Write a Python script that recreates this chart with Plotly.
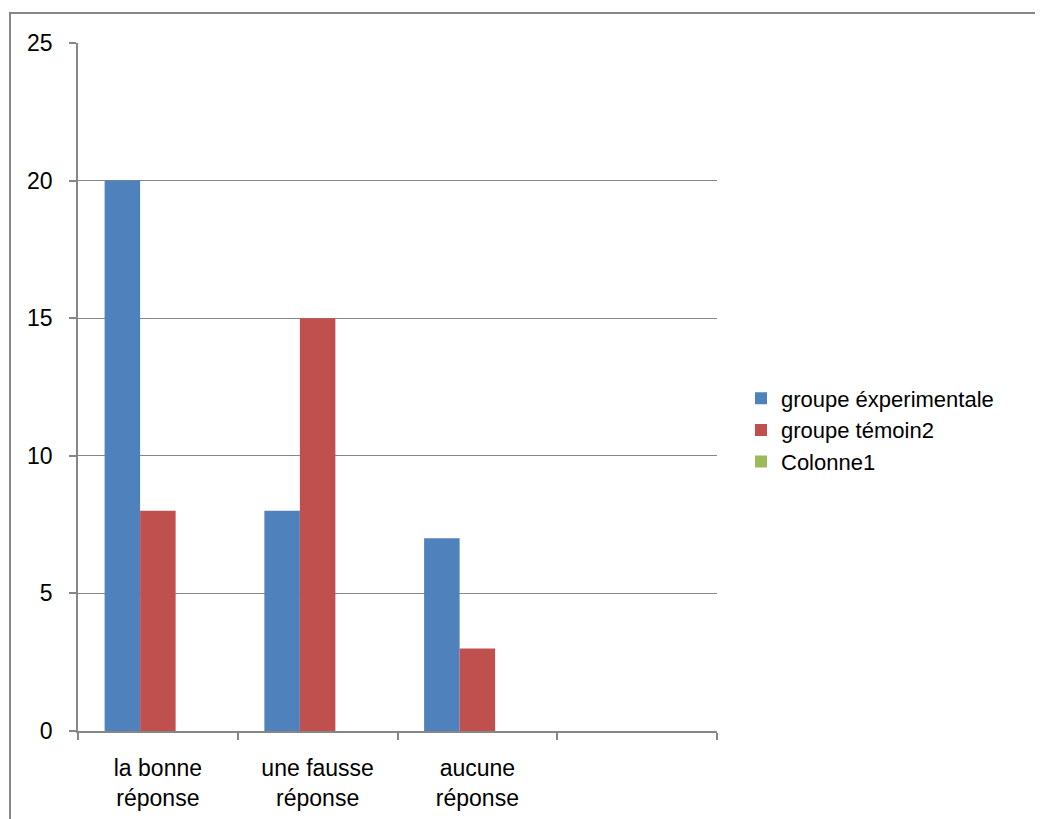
import plotly.graph_objects as go

categories = ["la bonne<br>réponse", "une fausse<br>réponse", "aucune<br>réponse", " "]
series_names = ["groupe éxperimentale", "groupe témoin2", "Colonne1"]
exp_values = [20, 8, 7, None]
temoin_values = [8, 15, 3, None]
colonne1_values = [None, None, None, None]
colors = ["#4F81BD", "#C0504D", "#9BBB59"]
y_ticks = [0, 5, 10, 15, 20, 25]

FONT = "Liberation Sans"
GRID = "#868686"

fig = go.Figure()
for name, vals, col in zip(series_names, [exp_values, temoin_values, colonne1_values], colors):
    fig.add_trace(go.Bar(x=categories, y=vals, name=name, marker=dict(color=col, line=dict(width=0))))

# page body has an 8px margin, so the figure is 8px smaller in each direction
W, H = 1035, 811
L, T, R, B = 70, 35, 326, 88
pw, ph = W - L - R, H - T - B

fig.update_layout(
    width=W, height=H,
    margin=dict(l=L, r=R, t=T, b=B, autoexpand=False),
    paper_bgcolor="white", plot_bgcolor="white",
    barmode="group", bargap=0.333, bargroupgap=0,
    font=dict(family=FONT, size=23, color="black"),
    showlegend=True,
    legend=dict(x=(741 - 78) / pw, xanchor="left", y=(731 - 430) / ph, yanchor="middle",
                font=dict(family=FONT, size=22, color="black"),
                itemwidth=30, tracegroupgap=0, bgcolor="rgba(0,0,0,0)"),
    xaxis=dict(type="category", range=[-0.5, 3.5], showgrid=False,
               showline=True, linecolor=GRID, linewidth=1.5,
               ticks="outside", tickson="boundaries", ticklen=7, tickcolor=GRID, tickwidth=1.5,
               tickfont=dict(family=FONT, size=23), ticklabelstandoff=16),
    yaxis=dict(range=[0, 25], tickvals=y_ticks, showgrid=True, gridcolor=GRID, gridwidth=1.2,
               showline=True, linecolor=GRID, linewidth=1.5, zeroline=False,
               ticks="outside", ticklen=7, tickcolor=GRID, tickwidth=1.5,
               tickfont=dict(family=FONT, size=23), ticklabelstandoff=12),
)

# outer chart border (cropped at right and bottom)
fig.add_shape(type="rect", xref="paper", yref="paper",
              x0=(10 - 78) / pw, x1=(1080 - 78) / pw,
              y0=(731 - 850) / ph, y1=(731 - 13) / ph,
              line=dict(color="#868686", width=2), fillcolor="rgba(0,0,0,0)", layer="below")

fig.write_html("out.html")
